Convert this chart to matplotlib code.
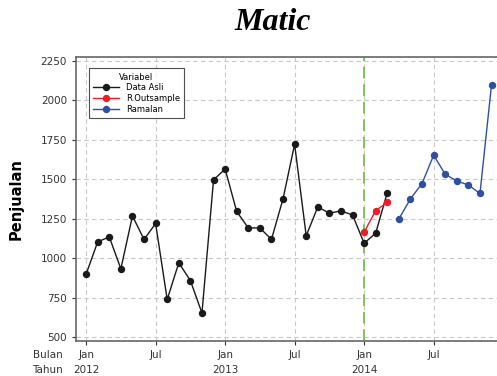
import numpy as np
import matplotlib
matplotlib.use("Agg")
import matplotlib.pyplot as plt

# bulan ke- (1 = Jan 2012)
data_asli = [900, 1105, 1136, 934, 1269, 1120, 1221, 740, 972, 860, 654, 1497,
             1566, 1297, 1193, 1193, 1120, 1377, 1723, 1143, 1326, 1286, 1301, 1275,
             1096, 1160, 1417]
outsample = [1166, 1303, 1354]
ramalan = [1250, 1377, 1474, 1653, 1533, 1490, 1465, 1411, 2100]

t_asli = np.arange(1, len(data_asli) + 1)
t_out = np.arange(25, 25 + len(outsample))
t_ram = np.arange(28, 28 + len(ramalan))

bulan_ticks = [1, 7, 13, 19, 25, 31]
bulan_labels = ["Jan", "Jul", "Jan", "Jul", "Jan", "Jul"]
tahun_labels = ["2012", "", "2013", "", "2014", ""]

fig = plt.figure(figsize=(4.97, 3.76), dpi=100)
ax = fig.add_axes([0.153, 0.093, 0.85, 0.755])

ax.plot(t_asli, data_asli, color="#1a1a1a", lw=1, marker="o", ms=4.3, label="Data Asli")
ax.plot(t_out, outsample, color="#ee1c24", lw=1, marker="o", ms=4.3, label="R.Outsample")
ax.plot(t_ram, ramalan, color="#2e4fa3", lw=1, marker="o", ms=4.3, label="Ramalan")
ax.axvline(25, color="#7dc45a", lw=1.4, ls=(0, (6, 3)), zorder=1)

ax.set_xlim(0.13, 36.6)
ax.set_ylim(477, 2274)
ax.set_yticks(np.arange(500, 2251, 250))
ax.set_xticks(bulan_ticks)
ax.set_xticklabels([b + "\n" + t for b, t in zip(bulan_labels, tahun_labels)],
                   linespacing=1.6)
ax.tick_params(labelsize=7.5, colors="#333333", length=3)
ax.grid(True, color="#c8c8c8", ls=(0, (4, 3)), lw=0.8)
ax.set_axisbelow(True)
for s in ax.spines.values():
    s.set_color("#666666")
    s.set_linewidth(1.2)

fig.text(0.127, 0.057, "Bulan", ha="right", va="center", fontsize=7.5, color="#333333")
fig.text(0.127, 0.016, "Tahun", ha="right", va="center", fontsize=7.5, color="#333333")
ax.set_ylabel("Penjualan", fontsize=10.5, fontweight="bold", labelpad=12)

leg = ax.legend(title="Variabel", loc="upper left", bbox_to_anchor=(0.02, 0.975),
                fontsize=6, title_fontsize=6, frameon=True, fancybox=False,
                handlelength=3.2, borderpad=0.5, labelspacing=0.2)
leg.get_frame().set_edgecolor("#222222")
leg.get_frame().set_linewidth(0.8)

fig.text(0.548, 0.94, "Matic", ha="center", va="center", fontsize=23,
         family="Liberation Serif", style="italic", fontweight="bold")

fig.savefig("out.png", dpi=100)
